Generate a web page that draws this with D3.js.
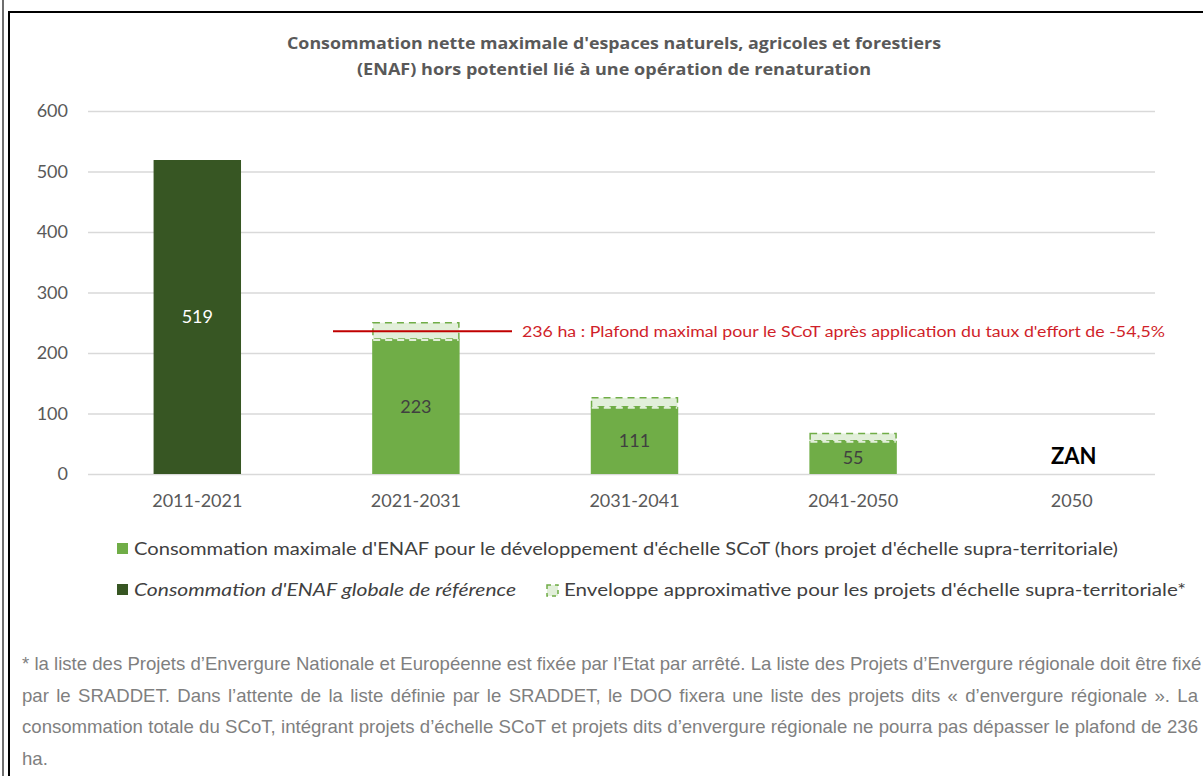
<!DOCTYPE html>
<html><head><meta charset="utf-8">
<script src="https://cdn.jsdelivr.net/npm/d3@7"></script>
<style>body{margin:0;background:#fff}svg{display:block}</style>
</head><body>
<script>
const categories = ["2011-2021","2021-2031","2031-2041","2041-2050","2050"];
const referenceValues = [519, null, null, null, null];
const scotValues = [null, 223, 111, 55, null];
const envelopeValues = [null, 27, 15, 12, null];
const plafond = 236;
const yTicks = [0,100,200,300,400,500,600];
const titleLines = ["Consommation nette maximale d'espaces naturels, agricoles et forestiers",
  "(ENAF) hors potentiel lié à une opération de renaturation"];
const plafondLabel = "236 ha : Plafond maximal pour le SCoT après application du taux d'effort de -54,5%";
const zanLabel = "ZAN";
const legendLabels = ["Consommation maximale d'ENAF pour le développement d'échelle SCoT (hors projet d'échelle supra-territoriale)",
  "Consommation d'ENAF globale de référence",
  "Enveloppe approximative pour les projets d'échelle supra-territoriale*"];
const footnoteLines = [
  "* la liste des Projets d’Envergure Nationale et Européenne est fixée par l’Etat par arrêté. La liste des Projets d’Envergure régionale doit être fixé",
  "par le SRADDET. Dans l’attente de la liste définie par le SRADDET, le DOO fixera une liste des projets dits « d’envergure régionale ». La",
  "consommation totale du SCoT, intégrant projets d’échelle SCoT et projets dits d’envergure régionale ne pourra pas dépasser le plafond de 236",
  "ha."];

const W = 1203, H = 776;
const C = {dark:"#375623", light:"#70ad47", env:"#e2efda", grid:"#d9d9d9", text:"#595959", red:"#c00000"};
const font = "Lato, 'Open Sans', sans-serif";

const svg = d3.select("body").append("svg").attr("width", W).attr("height", H)
  .style("font-family", font);
svg.append("rect").attr("width", W).attr("height", H).attr("fill", "#fff");

// outer frames
svg.append("line").attr("x1",3).attr("x2",3).attr("y1",0).attr("y2",H).attr("stroke","#6e6e6e").attr("stroke-width",2);
svg.append("path").attr("d",`M9,${H} V12 H${W}`).attr("fill","none").attr("stroke","#000").attr("stroke-width",2);

const x = d3.scaleBand().domain(categories).range([88,1181]).paddingInner(0.6).paddingOuter(0.3);
const y = d3.scaleLinear().domain([0,600]).range([474,111]);

// title
const titleWidths = [654, 514];
svg.append("g").selectAll("text").data(titleLines).join("text")
  .attr("x", 614).attr("y",(d,i)=>49+i*26).attr("text-anchor","middle")
  .style("font-family","'Open Sans', sans-serif")
  .attr("font-weight","bold").attr("font-size",15.5).attr("fill",C.text)
  .attr("textLength",(d,i)=>titleWidths[i]).attr("lengthAdjust","spacingAndGlyphs").text(d=>d);

// grid
const yAxis = d3.axisLeft(y).tickValues(yTicks).tickSize(-(1155-88)).tickPadding(20).tickFormat(d3.format("d"));
const ga = svg.append("g").attr("transform","translate(88,0)").call(yAxis);
ga.select(".domain").remove();
ga.selectAll(".tick line").attr("stroke",C.grid).attr("stroke-width",1.3);
ga.selectAll(".tick text").attr("font-size",18).attr("fill",C.text).attr("font-family",font);

// x axis labels
const xAxis = d3.axisBottom(x).tickSize(0).tickPadding(20);
const gx = svg.append("g").attr("transform","translate(0,474)").call(xAxis);
gx.select(".domain").remove();
gx.selectAll(".tick text").attr("font-size",18).attr("fill",C.text).attr("font-family",font);

const bw = x.bandwidth();
// reference bars
const refData = categories.map((c,i)=>({c,v:referenceValues[i]})).filter(d=>d.v!=null);
svg.append("g").selectAll("rect").data(refData).join("rect")
  .attr("x",d=>x(d.c)).attr("width",bw).attr("y",d=>y(d.v)).attr("height",d=>y(0)-y(d.v)).attr("fill",C.dark);
svg.append("g").selectAll("text").data(refData).join("text")
  .attr("x",d=>x(d.c)+bw/2).attr("y",d=>y(d.v/2)).attr("dy","0.35em").attr("text-anchor","middle")
  .attr("font-size",18).attr("fill","#fff").text(d=>d.v);

// scot bars
const scData = categories.map((c,i)=>({c,v:scotValues[i],e:envelopeValues[i]})).filter(d=>d.v!=null);
svg.append("g").selectAll("rect").data(scData).join("rect")
  .attr("x",d=>x(d.c)).attr("width",bw).attr("y",d=>y(d.v)).attr("height",d=>y(0)-y(d.v)).attr("fill",C.light);
// envelopes
const ge = svg.append("g");
ge.selectAll("rect").data(scData).join("rect")
  .attr("x",d=>x(d.c)+0.75).attr("width",bw-1.5).attr("y",d=>y(d.v+d.e)).attr("height",d=>y(d.v)-y(d.v+d.e))
  .attr("fill",C.env).attr("stroke",C.light).attr("stroke-width",1.5).attr("stroke-dasharray","7,5");
ge.selectAll("line").data(scData).join("line")
  .attr("x1",d=>x(d.c)+1).attr("x2",d=>x(d.c)+bw-1).attr("y1",d=>y(d.v)+1).attr("y2",d=>y(d.v)+1)
  .attr("stroke",C.env).attr("stroke-width",2).attr("stroke-dasharray","7,5");
svg.append("g").selectAll("text").data(scData).join("text")
  .attr("x",d=>x(d.c)+bw/2).attr("y",d=>y(d.v/2)).attr("dy","0.35em").attr("text-anchor","middle")
  .attr("font-size",18).attr("fill","#404040").text(d=>d.v);

// ZAN
svg.append("text").attr("x",x("2050")+bw/2+2).attr("y",y(0)-10).attr("text-anchor","middle")
  .attr("font-size",22).attr("font-weight","bold").attr("fill","#000").text(zanLabel);

// plafond line
svg.append("line").attr("x1",333).attr("x2",512).attr("y1",y(plafond)).attr("y2",y(plafond))
  .attr("stroke",C.red).attr("stroke-width",2);
svg.append("text").attr("x",522).attr("y",y(plafond)).attr("dy","0.35em").attr("font-size",15.5)
  .attr("fill","#d01f2a").attr("textLength",643).attr("lengthAdjust","spacingAndGlyphs").text(plafondLabel);

// legend
const lg = svg.append("g");
lg.append("rect").attr("x",117).attr("y",543).attr("width",11).attr("height",11).attr("fill",C.light);
lg.append("text").attr("x",134).attr("y",549).attr("dy","0.35em").attr("font-size",18).attr("fill","#404040")
  .attr("textLength",984).attr("lengthAdjust","spacingAndGlyphs").text(legendLabels[0]);
lg.append("rect").attr("x",117).attr("y",584).attr("width",11).attr("height",11).attr("fill",C.dark);
lg.append("text").attr("x",134).attr("y",590).attr("dy","0.35em").attr("font-size",18).attr("font-style","italic").attr("fill","#404040")
  .attr("textLength",382).attr("lengthAdjust","spacingAndGlyphs").text(legendLabels[1]);
lg.append("rect").attr("x",547).attr("y",585).attr("width",11).attr("height",11).attr("fill",C.env)
  .attr("stroke",C.light).attr("stroke-width",1.5).attr("stroke-dasharray","4,4");
lg.append("text").attr("x",564).attr("y",590).attr("dy","0.35em").attr("font-size",18).attr("fill","#404040")
  .attr("textLength",622).attr("lengthAdjust","spacingAndGlyphs").text(legendLabels[2]);

// footnote
const fn = svg.append("g").attr("fill","#7f7f7f");
const fnTexts = footnoteLines.map((t,i)=> fn.append("text").attr("x",22).attr("y",670+i*31.5)
  .style("font-family","'Liberation Sans', Arial, sans-serif").style("font-size","16px").text(t));
// fit size so that the first (unjustified) line ends at the right edge, like the reference
const w0 = fnTexts[0].node().getComputedTextLength();
const fs = 16 * 1180 / w0;
fnTexts.forEach(t=>t.style("font-size", fs+"px"));
[1,2].forEach(i=>{
  const t = fnTexts[i];
  const w = t.node().getComputedTextLength();
  const spaces = (footnoteLines[i].match(/ /g)||[]).length;
  t.style("word-spacing", ((1176 - w)/spaces) + "px");
});
</script>
</body></html>
